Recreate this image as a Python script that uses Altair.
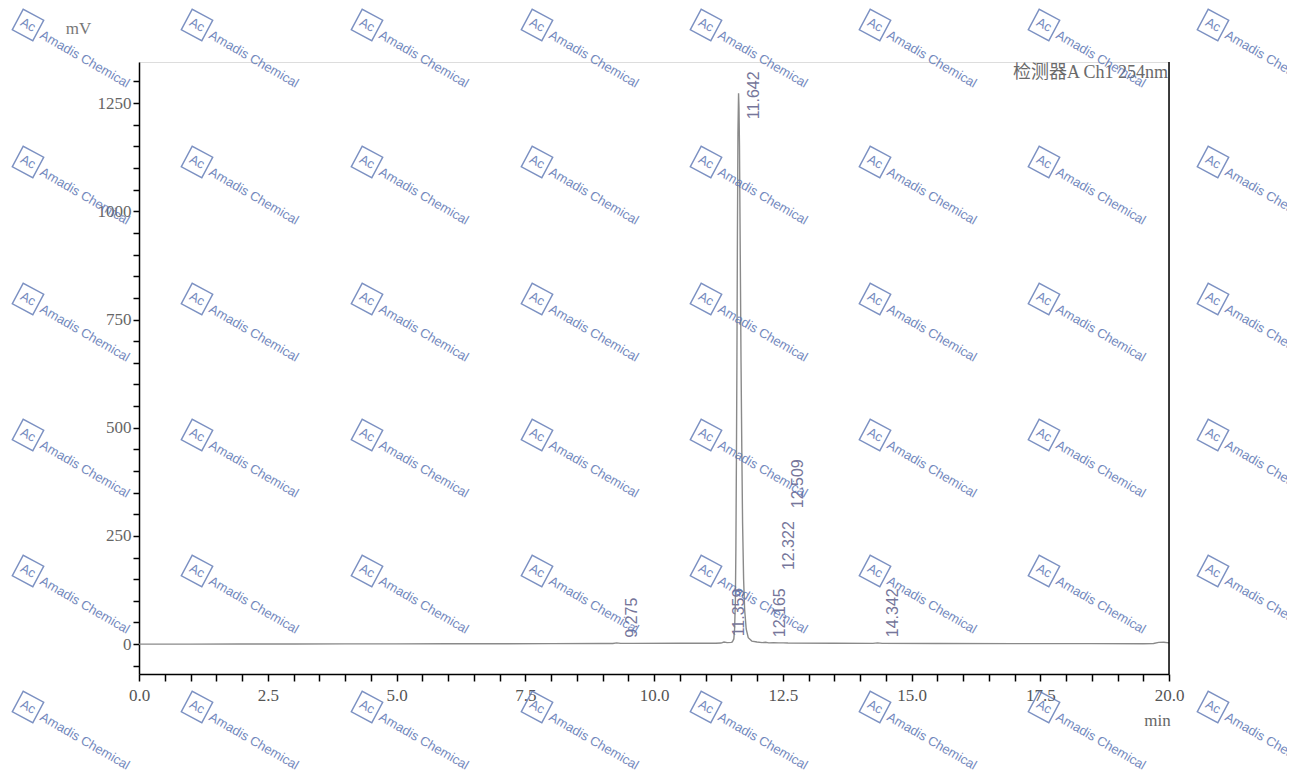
import altair as alt
import pandas as pd

# ---- chromatogram trace (time in min, signal in mV) ----
times = [0.0, 1.0, 2.0, 3.0, 4.0, 5.0, 6.0, 7.0, 8.0, 9.0, 9.2, 9.275, 9.35, 9.6,
         10.5, 11.2, 11.3, 11.359, 11.42, 11.5, 11.52, 11.55, 11.565, 11.58, 11.59,
         11.60, 11.61, 11.62, 11.63, 11.642, 11.65, 11.66, 11.675, 11.69, 11.705,
         11.72, 11.74, 11.76, 11.79, 11.83, 11.9, 12.0, 12.1, 12.165, 12.23, 12.322,
         12.42, 12.509, 12.6, 13.5, 14.25, 14.342, 14.43, 15.5, 17.0, 18.5, 19.5,
         19.7, 19.8, 19.9, 20.0]
signal = [0.0, 0.0, 0.2, 0.3, 0.5, 0.6, 0.8, 1.0, 1.2, 1.4, 1.6, 3.0, 1.8, 1.8,
          2.0, 2.2, 2.5, 5.0, 3.5, 4.0, 5.0, 12.0, 35.0, 100.0, 220.0,
          420.0, 650.0, 950.0, 1180.0, 1273.0, 1240.0, 1150.0, 900.0, 650.0, 450.0,
          280.0, 150.0, 80.0, 35.0, 15.0, 7.0, 5.0, 3.5, 4.5, 3.0, 3.5,
          2.8, 3.0, 2.5, 2.0, 1.8, 3.0, 1.8, 1.5, 1.2, 1.2, 1.0,
          1.5, 4.0, 4.5, 3.0]

# ---- peak labels ----
peak_times = [9.275, 11.359, 11.642, 12.165, 12.322, 12.509, 14.342]
peak_labels = ["9.275", "11.359", "11.642", "12.165", "12.322", "12.509", "14.342"]
label_base = [15, 18, 1213, 16, 171, 314, 16]   # mV where each label text starts

# ---- axis ticks ----
x_ticks = [i * 0.5 for i in range(0, 41)]
y_ticks = [i * 50 for i in range(-1, 27)]

detector_title = "检测器A Ch1 254nm"

# ---- watermark grid (page pixels) ----
wm_cols = [28, 197, 367, 537, 706, 875, 1044, 1213]
wm_rows = [25, 162, 299, 435, 571, 707]
wm_text = "Amadis Chemical"
wm_logo = "Ac"

PAD_L, PAD_T = 131, 54
W, H = 1030, 612
X_DOM = [0, 20]
Y_DOM = [-69, 1345]

trace_df = pd.DataFrame({"t": times, "mV": signal})
label_df = pd.DataFrame({"t": peak_times, "lab": peak_labels, "base": label_base})

xscale = alt.Scale(domain=X_DOM, nice=False, zero=False)
yscale = alt.Scale(domain=Y_DOM, nice=False, zero=False)

serif = "Liberation Serif"

x_axis = alt.Axis(
    values=x_ticks,
    labelExpr="abs(datum.value % 2.5) < 1e-6 ? format(datum.value, '.1f') : ''",
    labelOverlap=False,
    grid=False, domainColor="black", domainWidth=1.5, tickColor="black",
    tickWidth=1.5, tickSize=7, labelFont=serif, labelFontSize=17,
    labelColor="#555", labelPadding=6, labelFlush=False,
    title="min", titleFont=serif, titleFontSize=17, titleFontWeight="normal",
    titleColor="#666", titleX=1018, titleY=46, titleAlign="center",
    titleBaseline="middle", titleAnchor="start",
)
y_axis = alt.Axis(
    values=y_ticks,
    labelExpr="datum.value % 250 === 0 ? format(datum.value, 'd') : ''",
    labelOverlap=False,
    grid=False, domainColor="black", domainWidth=1.5, tickColor="black",
    tickWidth=1.5, tickSize=6, labelFont=serif, labelFontSize=17,
    labelColor="#666", labelPadding=2,
    title="mV", titleFont=serif, titleFontSize=17, titleFontWeight="normal",
    titleColor="#777", titleAngle=0, titleX=-61, titleY=-34,
    titleAlign="center", titleBaseline="middle", titleAnchor="start",
)

trace = alt.Chart(trace_df).mark_line(color="#8a8a8a", strokeWidth=1.4).encode(
    x=alt.X("t:Q", scale=xscale, axis=x_axis),
    y=alt.Y("mV:Q", scale=yscale, axis=y_axis),
)

labels = alt.Chart(label_df).mark_text(
    angle=270, align="left", baseline="middle", dy=15,
    font="Liberation Sans", fontSize=16, color="#76769a",
).encode(
    x=alt.X("t:Q", scale=xscale, axis=x_axis),
    y=alt.Y("base:Q", scale=yscale, axis=y_axis),
    text="lab:N",
)

right_edge = alt.Chart(pd.DataFrame({"r": [X_DOM[1]]})).mark_rule(
    color="black", strokeWidth=1.5
).encode(x=alt.X("r:Q", scale=xscale, axis=x_axis))

title_txt = alt.Chart(pd.DataFrame({"s": [detector_title]})).mark_text(
    align="right", baseline="middle", font=serif + ", Noto Sans CJK SC",
    fontSize=18, color="#6a6a6a",
).encode(x=alt.value(W - 1), y=alt.value(11), text="s:N")

main = alt.layer(trace, labels, right_edge, title_txt)

wm_rows_data = []
for by in wm_rows:
    for bx in wm_cols:
        wm_rows_data.append({"bx": bx - 8 - PAD_L, "by": by - 8 - PAD_T,
                             "tx": bx - 8 - PAD_L + 13, "ty": by - 8 - PAD_T + 9,
                             "logo": wm_logo, "txt": wm_text})
wm_df = pd.DataFrame(wm_rows_data)
wm_color = "#5b75b3"

wm_box = alt.Chart(wm_df).mark_point(
    shape="square", size=540, angle=28, filled=False, stroke=wm_color,
    strokeWidth=1.4, opacity=0.8,
).encode(x=alt.X("bx:Q", scale=None, axis=None), y=alt.Y("by:Q", scale=None, axis=None))

wm_logo_txt = alt.Chart(wm_df).mark_text(
    angle=28, align="center", baseline="middle", font="Liberation Sans",
    fontSize=13, color=wm_color, opacity=0.85,
).encode(x=alt.X("bx:Q", scale=None, axis=None), y=alt.Y("by:Q", scale=None, axis=None), text="logo:N")

wm_name = alt.Chart(wm_df).mark_text(
    angle=30, align="left", baseline="middle", font="Liberation Sans",
    fontSize=13, color=wm_color, opacity=0.85,
).encode(x=alt.X("tx:Q", scale=None, axis=None), y=alt.Y("ty:Q", scale=None, axis=None), text="txt:N")

wm = alt.layer(wm_box, wm_logo_txt, wm_name)

chart = alt.layer(main, wm).resolve_scale(x="independent", y="independent").properties(
    width=W, height=H,
    autosize=alt.AutoSizeParams(type="none"),
    padding={"left": PAD_L, "top": PAD_T, "right": 118, "bottom": 100},
).configure_view(stroke="#999", strokeWidth=1.2).configure(background="white")

chart.save("out.html", embed_options={"renderer": "svg", "actions": False})
